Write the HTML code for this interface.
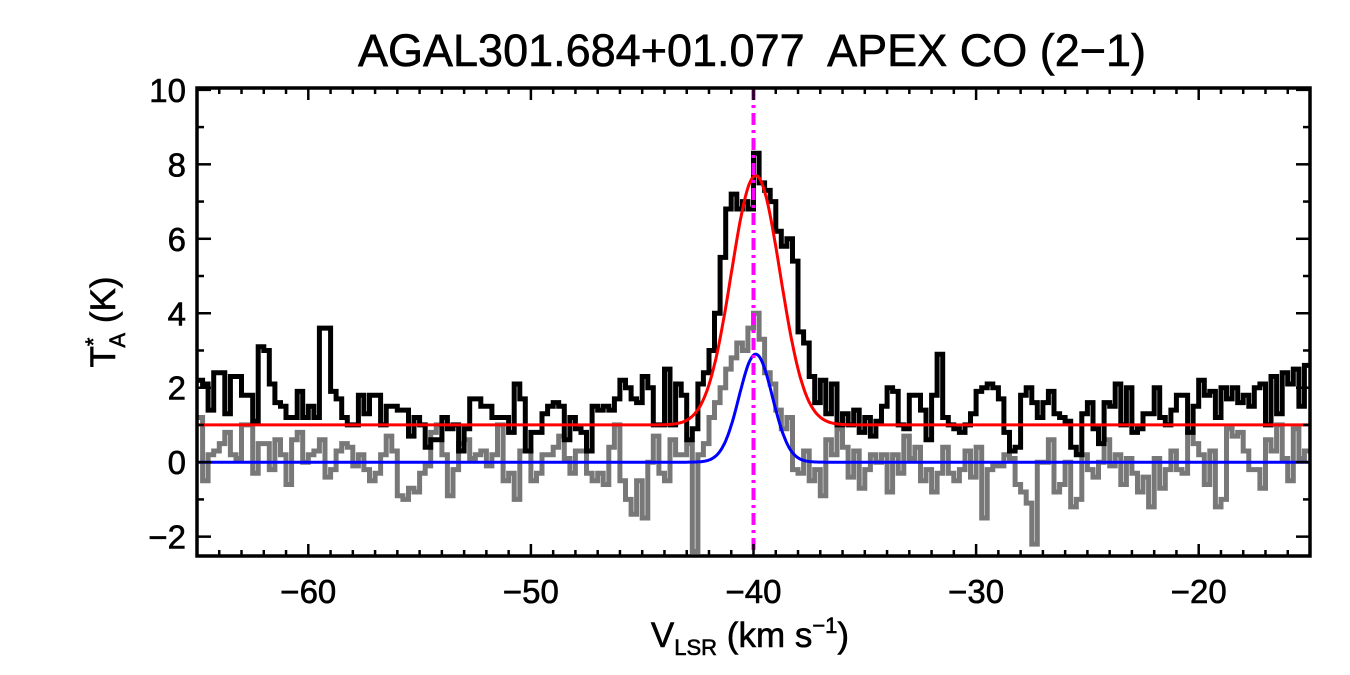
<!DOCTYPE html>
<html><head><meta charset="utf-8">
<style>
html,body{margin:0;padding:0;background:#fff;}
svg{display:block;font-family:"Liberation Sans",Arial,sans-serif;}
text{stroke:#000;stroke-width:0.6px;}
</style></head>
<body>
<svg id="chart" width="1350" height="675" viewBox="0 0 1350 675" xmlns="http://www.w3.org/2000/svg">
<text x="752" y="66" font-size="45" text-anchor="middle" style="white-space:pre">AGAL301.684+01.077  APEX CO (2−1)</text>
<g id="plot"></g>
<g id="axes"></g>
<text x="750" y="647" font-size="35" text-anchor="middle">V<tspan font-size="22" dy="8">LSR</tspan><tspan dy="-8"> (km s</tspan><tspan font-size="22" dy="-14">−1</tspan><tspan dy="14">)</tspan></text>
<text transform="translate(115,322) rotate(-90)" font-size="35" text-anchor="middle">T<tspan font-size="22" dy="-14">*</tspan><tspan font-size="22" dx="-10" dy="24">A</tspan><tspan dy="-10"> (K)</tspan></text>
</svg>
<script>
const vStart = -65, chanWidth = 0.25;
const blackSpec = [2.2,2.1,1.4,2.4,2.4,1.3,2.3,2.3,1.8,1.8,1.1,3.1,3.0,2.1,1.6,1.5,1.2,1.2,1.9,1.2,
1.5,1.2,3.6,3.6,1.9,1.7,1.2,1.0,1.0,1.8,1.3,1.8,1.8,1.0,1.5,1.5,1.4,1.4,0.7,1.2,
1.0,0.4,0.6,0.6,1.2,0.9,1.0,0.3,0.9,1.7,1.7,1.5,1.5,1.2,1.2,1.2,0.8,2.1,1.7,0.3,
0.8,0.8,1.3,1.5,1.6,1.5,0.6,1.2,0.9,0.8,0.3,1.5,1.4,1.5,1.4,1.7,2.2,2.0,1.7,1.6,
2.3,2.0,1.0,1.0,2.5,1.0,2.1,1.8,0.6,0.9,2.1,2.4,3.0,4.0,5.5,6.8,7.2,6.8,7.0,6.8,
8.3,7.5,7.3,7.0,6.2,5.8,6.0,5.4,3.5,3.2,2.3,1.6,2.2,1.3,2.1,1.0,1.3,1.0,1.4,0.8,
1.2,0.7,1.1,1.5,2.0,1.9,1.0,0.9,1.8,1.8,1.4,0.6,1.8,2.9,1.2,1.0,0.9,0.8,1.0,1.3,
1.9,2.0,2.1,2.0,1.7,0.8,0.3,0.4,1.8,2.0,1.6,1.2,1.6,1.9,1.3,1.2,1.1,0.4,0.2,1.3,
1.6,0.9,0.5,1.6,1.5,2.1,1.0,2.0,0.8,0.9,1.3,1.3,2.0,1.2,1.0,1.4,1.8,1.8,0.8,1.5,
2.2,1.8,1.9,1.2,2.0,1.7,2.0,1.6,1.8,1.5,2.0,2.1,1.0,2.3,1.3,2.4,2.1,2.5,1.5,2.6];
const graySpec = [1.2,-0.5,0.2,0.3,0.5,0.8,0.2,0.1,1.0,1.0,-0.3,0.5,0.5,-0.2,0.6,0.2,-0.6,0.6,0.8,0.0,
0.2,0.3,0.6,-0.4,-0.2,0.3,0.5,0.4,-0.1,0.2,-0.2,-0.5,-0.3,0.2,0.7,0.3,-0.9,-1.0,-0.7,-0.8,
-0.3,-0.1,0.8,1.0,0.2,-0.9,-0.2,0.5,0.6,0.1,0.2,0.3,-0.1,0.2,1.0,-0.5,-0.3,-1.0,0.3,0.3,
-0.5,-0.3,0.2,0.2,0.4,0.7,0.1,-0.3,0.3,0.3,-0.3,-0.5,-0.3,-0.6,0.4,1.0,-0.5,-1.0,-1.4,-0.5,
-1.5,0.0,0.7,-0.3,-0.5,0.6,0.2,0.2,0.5,-2.4,0.2,0.5,1.2,1.6,2.0,2.5,2.8,3.2,3.0,3.6,
4.0,3.3,2.4,2.1,1.4,0.9,1.2,-0.2,-0.3,0.3,-0.5,-0.2,-0.9,0.6,0.2,0.9,0.4,-0.4,0.3,-0.7,
-0.2,0.2,0.0,0.2,-0.8,0.2,-0.3,0.7,0.1,0.4,-0.5,-0.2,-0.8,-0.3,0.4,-0.3,-0.5,-0.2,0.3,-0.4,
0.4,-1.5,-0.2,-0.1,-0.1,0.2,0.1,-0.6,-0.8,-1.1,-2.2,0.0,0.0,0.6,-0.8,-0.6,0.0,-1.2,-1.0,0.2,
-0.2,-0.4,0.0,0.6,-0.1,0.2,-0.6,0.1,-0.3,-0.8,-0.4,-1.2,0.1,-0.7,-0.2,0.3,-0.2,-0.3,0.8,0.5,
0.2,-0.6,0.3,-1.2,-1.0,0.9,0.7,0.8,0.3,-0.2,-0.2,-0.7,0.6,0.3,1.0,0.1,-0.5,0.9,0.1,0.3];
const redFit = {base:1.0, amp:6.7, center:-39.9, sigma:1.1};
const blueFit = {base:0.0, amp:2.9, center:-39.9, sigma:0.75};
const markerV = -40;
const xTickLabels = [-60,-50,-40,-30,-20];
const yTickLabels = [-2,0,2,4,6,8,10];

const X0=197,X1=1310,Y0=88,Y1=556;
const xMin=-65,xMax=-15,yMin=-2.52,yMax=10.05;
const sx=v=>X0+(v-xMin)/(xMax-xMin)*(X1-X0);
const sy=t=>Y1-(t-yMin)/(yMax-yMin)*(Y1-Y0);
const NS="http://www.w3.org/2000/svg";
const plot=document.getElementById('plot'), axes=document.getElementById('axes');
function mk(tag,attrs,parent){const e=document.createElementNS(NS,tag);for(const k in attrs)e.setAttribute(k,attrs[k]);parent.appendChild(e);return e;}
const clip=mk('clipPath',{id:'cp'},plot);mk('rect',{x:X0,y:Y0,width:X1-X0,height:Y1-Y0},clip);
function stepPath(arr){let d='';arr.forEach((t,i)=>{const a=sx(vStart+i*chanWidth),b=sx(vStart+(i+1)*chanWidth),y=sy(t);d+=(i?'L':'M')+a.toFixed(1)+','+y.toFixed(1)+'L'+b.toFixed(1)+','+y.toFixed(1);});return d;}
const g=mk('path',{d:stepPath(graySpec),fill:'none',stroke:'#787878','stroke-width':5,'clip-path':'url(#cp)'},plot);


const b=mk('path',{d:stepPath(blackSpec),fill:'none',stroke:'#000','stroke-width':5,'clip-path':'url(#cp)'},plot);


function gaussPath(f){let d='';for(let v=xMin;v<=xMax+1e-9;v+=0.05){const t=f.base+f.amp*Math.exp(-0.5*Math.pow((v-f.center)/f.sigma,2));d+=(d?'L':'M')+sx(v).toFixed(1)+','+sy(t).toFixed(1);}return d;}
const r=mk('path',{d:gaussPath(redFit),fill:'none',stroke:'#f00','stroke-width':3},plot);


const bl=mk('path',{d:gaussPath(blueFit),fill:'none',stroke:'#00f','stroke-width':3},plot);


const m=mk('line',{x1:sx(markerV),x2:sx(markerV),y1:Y0,y2:Y1,stroke:'#f0f','stroke-width':4,'stroke-dasharray':'12 5 3 5'},plot);


const fr=mk('rect',{x:X0,y:Y0,width:X1-X0,height:Y1-Y0,fill:'none',stroke:'#000','stroke-width':3.5},axes);


for(let v=xMin;v<=xMax;v++){const major=(v%10===0);const L=major?12:6;const x=sx(v);
 mk('line',{x1:x,x2:x,y1:Y1,y2:Y1-L,stroke:'#000','stroke-width':2.5},axes);
 mk('line',{x1:x,x2:x,y1:Y0,y2:Y0+L,stroke:'#000','stroke-width':2.5},axes);}
xTickLabels.forEach(v=>{const t=mk('text',{x:sx(v),y:603,'font-size':33,'text-anchor':'middle'},axes);t.textContent=String(v).replace('-','−');
 
 });
for(let t=-2;t<=10;t++){const major=(t%2===0);const L=major?14:7;const y=sy(t);
 mk('line',{x1:X0,x2:X0+L,y1:y,y2:y,stroke:'#000','stroke-width':2.5},axes);
 mk('line',{x1:X1,x2:X1-L,y1:y,y2:y,stroke:'#000','stroke-width':2.5},axes);}
yTickLabels.forEach(v=>{const t=mk('text',{x:186,y:sy(v)+12,'font-size':33,'text-anchor':'end'},axes);t.textContent=String(v).replace('-','−');
 
 });
</script>
</body></html>
